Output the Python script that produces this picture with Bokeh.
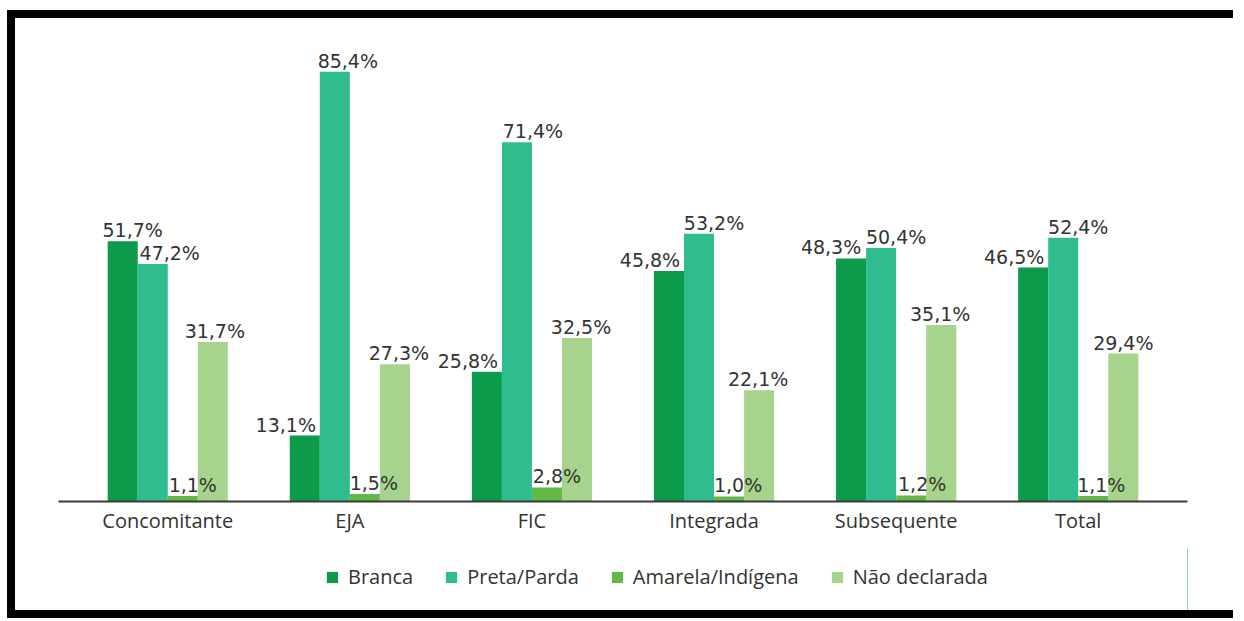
from bokeh.plotting import figure
from bokeh.layouts import column
from bokeh.models import (FactorRange, Range1d, ColumnDataSource, Legend, LegendItem)
from bokeh.transform import dodge
from bokeh.core.properties import value
from bokeh.embed import file_html
from bokeh.resources import INLINE

# ---- data ----
categories = ["Concomitante", "EJA", "FIC", "Integrada", "Subsequente", "Total"]
series_names = ["Branca", "Preta/Parda", "Amarela/Indígena", "Não declarada"]
branca = [51.7, 13.1, 25.8, 45.8, 48.3, 46.5]
preta_parda = [47.2, 85.4, 71.4, 53.2, 50.4, 52.4]
amarela_indigena = [1.1, 1.5, 2.8, 1.0, 1.2, 1.1]
nao_declarada = [31.7, 27.3, 32.5, 22.1, 35.1, 29.4]

# ---- styles ----
colors = ["#0b9b4b", "#2fbc8e", "#63b947", "#a6d48c"]
bar_w = 0.165
offsets = [-1.5 * bar_w, -0.5 * bar_w, 0.5 * bar_w, 1.5 * bar_w]
label_dx = [
    [10, -19, -19, -19, -20, -19],
    [17, 13, 16, 15, 15, 15],
    [10, 9, 10, 9, 11, 8],
    [2, 4, 4, -1, -1, 0],
]

W, H1, H2 = 1226, 538, 70
p = figure(
    x_range=FactorRange(factors=categories, range_padding=0.1,
                        range_padding_units="absolute"),
    y_range=Range1d(0, 93.6),
    width=W, height=H1, output_backend="svg", toolbar_location=None,
    min_border_left=43, min_border_right=W - 1172, min_border_top=12, min_border_bottom=55,
    background_fill_color="white", border_fill_color="white",
)
p.styles = {"margin-top": "10px", "margin-left": "7px",
            "border-top": "8px solid black", "border-left": "8px solid black"}
p.yaxis.visible = False
p.grid.visible = False
p.outline_line_color = None

xa = p.xaxis[0]
xa.axis_line_color = "#3a3a3a"
xa.axis_line_width = 2
xa.major_tick_line_color = None
xa.minor_tick_line_color = None
xa.major_tick_out = 0
xa.major_tick_in = 0
xa.major_label_text_font = "Open Sans"
xa.major_label_text_font_size = "20px"
xa.major_label_text_color = "#333333"
xa.major_label_standoff = 5

all_series = [branca, preta_parda, amarela_indigena, nao_declarada]
sources = []
for i, vals in enumerate(all_series):
    src = ColumnDataSource(dict(
        cat=categories,
        val=vals,
        lbl=[f"{v:.1f}%".replace(".", ",") for v in vals],
        dx=label_dx[i],
    ))
    sources.append(src)
    p.vbar(x=dodge("cat", offsets[i], range=p.x_range), top="val", width=bar_w,
           source=src, fill_color=colors[i], line_alpha=0)

for i, src in enumerate(sources):
    p.text(x=dodge("cat", offsets[i], range=p.x_range), y="val", text="lbl",
           x_offset="dx", y_offset=0, source=src,
           text_align="center", text_baseline="bottom",
           text_font=value("DejaVu Sans"), text_font_size="19px", text_color="#333333")

# ---- legend strip ----
p2 = figure(width=W, height=H2, output_backend="svg", toolbar_location=None,
            x_range=Range1d(0, 1), y_range=Range1d(0, 1),
            min_border_left=0, min_border_right=0, min_border_top=0, min_border_bottom=0,
            border_fill_color="white", background_fill_color="white")
p2.styles = {"margin-left": "7px", "border-left": "8px solid black",
             "border-bottom": "8px solid black"}
p2.axis.visible = False
p2.grid.visible = False
p2.outline_line_color = None
items = []
for i, name in enumerate(series_names):
    # legend swatch only: the glyph sits outside the visible range
    r = p2.vbar(x="x", top="top", width=0.1, fill_color=colors[i], line_alpha=0,
                source=ColumnDataSource(dict(x=[5], top=[5])))
    items.append(LegendItem(label=name, renderers=[r]))
legend = Legend(items=items, orientation="horizontal", location=(267, 28),
                label_text_font="Open Sans", label_text_font_size="20px",
                label_text_color="#333333",
                glyph_width=14, glyph_height=14, spacing=31, label_standoff=9,
                border_line_color=None, background_fill_alpha=0,
                padding=0, margin=0)
p2.add_layout(legend)

layout = column(p, p2)
open("out.html", "w").write(file_html(layout, INLINE))
